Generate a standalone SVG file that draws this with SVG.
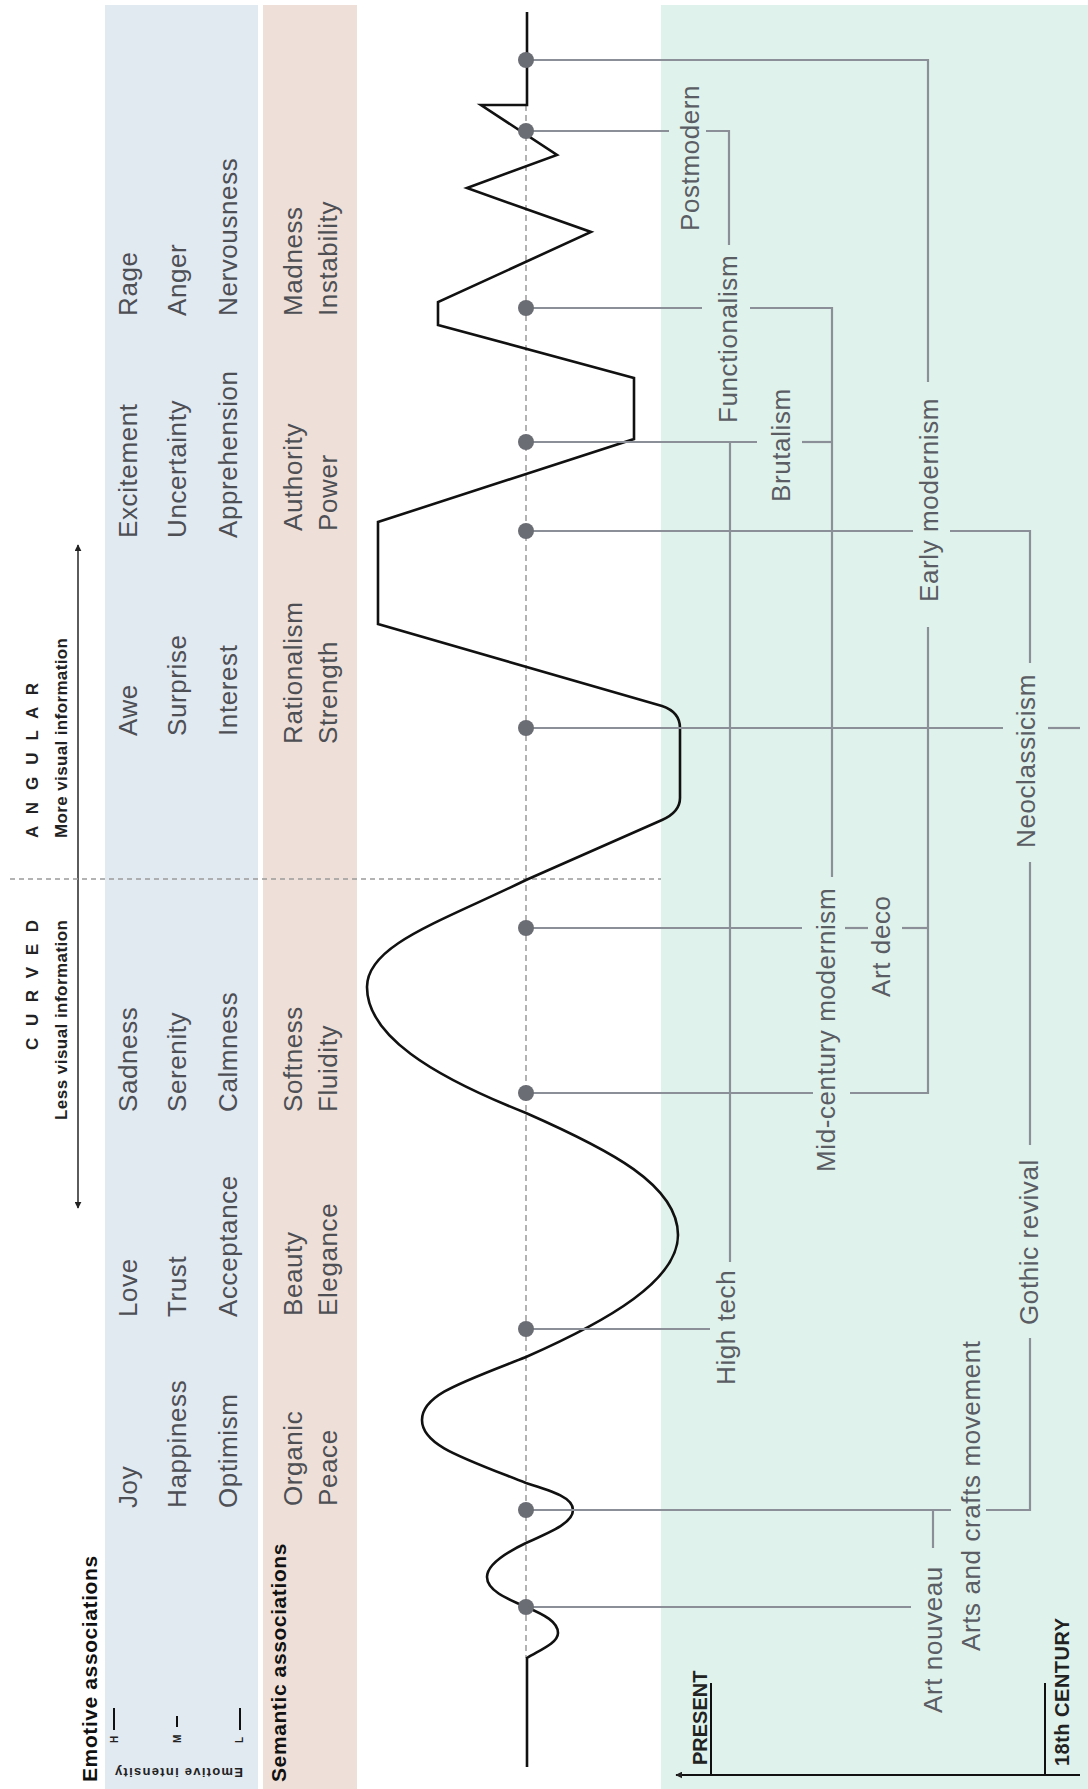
<svg xmlns="http://www.w3.org/2000/svg" width="1088" height="1789" viewBox="0 0 1088 1789">
<style>
.w{font-family:"Liberation Sans",Arial,sans-serif;font-size:26px;fill:#4d4f55;letter-spacing:0.6px}
.lab{font-family:"Liberation Sans",Arial,sans-serif;font-size:26px;fill:#5a5d63;letter-spacing:0.6px}
.ttl{font-family:"Liberation Sans",Arial,sans-serif;font-size:21px;font-weight:bold;fill:#111;letter-spacing:0.6px}
.sm{font-family:"Liberation Sans",Arial,sans-serif;font-weight:bold;fill:#222}
.nar{font-family:"Liberation Sans Narrow","Liberation Sans",Arial,sans-serif;font-weight:bold;fill:#222}
.con{fill:none;stroke:#8a8f98;stroke-width:2.2}
.dot{fill:#6b6d74}
.blk{fill:none;stroke:#111;stroke-width:2}
</style>
<defs>
<marker id="arr" viewBox="0 0 10 10" refX="9" refY="5" markerWidth="7" markerHeight="7" markerUnits="userSpaceOnUse" orient="auto-start-reverse">
<path d="M0,0 L10,5 L0,10 z" fill="#222"/>
</marker>
</defs>

<g id="bands">
<rect x="105" y="5" width="153" height="1784" fill="#e1e9f1"/>
<rect x="263" y="5" width="94" height="1784" fill="#eee0d8"/>
<rect x="661" y="5" width="427" height="1784" fill="#e0f2ec"/>
</g>

<g id="left-titles">
<text class="ttl" transform="translate(97,1782) rotate(-90)">Emotive associations</text>
<text class="ttl" transform="translate(286,1782) rotate(-90)">Semantic associations</text>
<text class="sm" font-size="13" textLength="128" transform="translate(243,1768) rotate(180)">Emotive intensity</text>
<text class="sm" font-size="10" transform="translate(118,1743) rotate(-90)">H</text>
<text class="sm" font-size="10" transform="translate(181,1743) rotate(-90)">M</text>
<text class="sm" font-size="10" transform="translate(243,1743) rotate(-90)">L</text>
<path class="blk" d="M114 1708 V1730 M177 1716 V1727 M240 1708 V1730"/>
</g>

<g id="axis-labels">
<text class="sm" font-size="17" textLength="130" text-anchor="end" transform="translate(38,920) rotate(-90)">C U R V E D</text>
<text class="nar" font-size="17" textLength="200" text-anchor="end" transform="translate(67,920) rotate(-90)">Less visual information</text>
<text class="sm" font-size="17" textLength="155" transform="translate(38,838) rotate(-90)">A N G U L A R</text>
<text class="nar" font-size="17" textLength="200" transform="translate(67,838) rotate(-90)">More visual information</text>
<path d="M78 545 V1208" stroke="#333" stroke-width="1.6" fill="none" marker-start="url(#arr)" marker-end="url(#arr)"/>
<path d="M10 879 H661" stroke="#9a9a9a" stroke-width="1.5" stroke-dasharray="5 4" fill="none"/>
</g>

<g id="emotive-words">
<text class="w" transform="translate(137,316) rotate(-90)">Rage</text>
<text class="w" transform="translate(186,316) rotate(-90)">Anger</text>
<text class="w" transform="translate(237,316) rotate(-90)">Nervousness</text>
<text class="w" transform="translate(137,538) rotate(-90)">Excitement</text>
<text class="w" transform="translate(186,538) rotate(-90)">Uncertainty</text>
<text class="w" transform="translate(237,538) rotate(-90)">Apprehension</text>
<text class="w" transform="translate(137,736) rotate(-90)">Awe</text>
<text class="w" transform="translate(186,736) rotate(-90)">Surprise</text>
<text class="w" transform="translate(237,736) rotate(-90)">Interest</text>
<text class="w" transform="translate(137,1112) rotate(-90)">Sadness</text>
<text class="w" transform="translate(186,1112) rotate(-90)">Serenity</text>
<text class="w" transform="translate(237,1112) rotate(-90)">Calmness</text>
<text class="w" transform="translate(137,1317) rotate(-90)">Love</text>
<text class="w" transform="translate(186,1317) rotate(-90)">Trust</text>
<text class="w" transform="translate(237,1317) rotate(-90)">Acceptance</text>
<text class="w" transform="translate(137,1508) rotate(-90)">Joy</text>
<text class="w" transform="translate(186,1508) rotate(-90)">Happiness</text>
<text class="w" transform="translate(237,1508) rotate(-90)">Optimism</text>
</g>

<g id="semantic-words">
<text class="w" transform="translate(302,316) rotate(-90)">Madness</text>
<text class="w" transform="translate(337,316) rotate(-90)">Instability</text>
<text class="w" transform="translate(302,531) rotate(-90)">Authority</text>
<text class="w" transform="translate(337,531) rotate(-90)">Power</text>
<text class="w" transform="translate(302,744) rotate(-90)">Rationalism</text>
<text class="w" transform="translate(337,744) rotate(-90)">Strength</text>
<text class="w" transform="translate(302,1112) rotate(-90)">Softness</text>
<text class="w" transform="translate(337,1112) rotate(-90)">Fluidity</text>
<text class="w" transform="translate(302,1316) rotate(-90)">Beauty</text>
<text class="w" transform="translate(337,1316) rotate(-90)">Elegance</text>
<text class="w" transform="translate(302,1506) rotate(-90)">Organic</text>
<text class="w" transform="translate(337,1506) rotate(-90)">Peace</text>
</g>

<g id="axis">
<path d="M526 105 V1658" stroke="#9a9a9a" stroke-width="1.5" stroke-dasharray="6 4" fill="none"/>
</g>

<g id="curve">
<path fill="none" stroke="#111" stroke-width="2.6" stroke-linejoin="miter" d="M527 12 L527 105 L481 105 L557 155 L467 188 L591 232 L438 302 L438 325 L634 378 L634 439 L378 522 L378 624 L662 706 Q680 712 680 728 L680 798 Q680 812 662 820 L526 880 C440 922 367 945 367 987 C367 1035 430 1075 526 1113 C610 1150 678 1185 678 1235 C678 1280 610 1320 526 1357 C460 1383 422 1395 422 1420 C422 1445 460 1457 526 1483 C555 1492 573 1498 573 1510 C573 1522 555 1530 526 1543 C505 1553 487 1565 487 1577 C487 1590 505 1598 526 1607 C545 1615 558 1622 558 1633 C558 1643 540 1650 527 1658 L527 1767"/>
</g>

<g id="connectors">
<path class="con" d="M526 60 H928 V382"/>
<path class="con" d="M928 627 V1093 H850"/>
<path class="con" d="M813 1093 H526"/>
<path class="con" d="M526 131 H669"/>
<path class="con" d="M706 131 H729 V245"/>
<path class="con" d="M526 308 H702"/>
<path class="con" d="M750 308 H832 V877"/>
<path class="con" d="M526 442 H757"/>
<path class="con" d="M802 442 H832"/>
<path class="con" d="M730 442 V1262"/>
<path class="con" d="M526 531 H913"/>
<path class="con" d="M950 531 H1030 V663"/>
<path class="con" d="M526 728 H1003"/>
<path class="con" d="M1048 728 H1080"/>
<path class="con" d="M1030 862 V1145"/>
<path class="con" d="M1030 1338 V1510 H986"/>
<path class="con" d="M951 1510 H526"/>
<path class="con" d="M933 1510 V1548"/>
<path class="con" d="M526 928 H802"/>
<path class="con" d="M845 928 H868"/>
<path class="con" d="M902 928 H928"/>
<path class="con" d="M526 1329 H710"/>
<path class="con" d="M526 1607 H911"/>
</g>

<g id="dots">
<circle class="dot" cx="526" cy="60" r="8"/>
<circle class="dot" cx="526" cy="131" r="8"/>
<circle class="dot" cx="526" cy="308" r="8"/>
<circle class="dot" cx="526" cy="442" r="8"/>
<circle class="dot" cx="526" cy="531" r="8"/>
<circle class="dot" cx="526" cy="728" r="8"/>
<circle class="dot" cx="526" cy="928" r="8"/>
<circle class="dot" cx="526" cy="1093" r="8"/>
<circle class="dot" cx="526" cy="1329" r="8"/>
<circle class="dot" cx="526" cy="1510" r="8"/>
<circle class="dot" cx="526" cy="1607" r="8"/>
</g>

<g id="node-postmodern"><text class="lab" transform="translate(699,231) rotate(-90)">Postmodern</text></g>
<g id="node-functionalism"><text class="lab" transform="translate(737,423) rotate(-90)">Functionalism</text></g>
<g id="node-brutalism"><text class="lab" transform="translate(790,502) rotate(-90)">Brutalism</text></g>
<g id="node-early-modernism"><text class="lab" transform="translate(938,602) rotate(-90)">Early modernism</text></g>
<g id="node-neoclassicism"><text class="lab" transform="translate(1035,848) rotate(-90)">Neoclassicism</text></g>
<g id="node-mid-century"><text class="lab" transform="translate(835,1172) rotate(-90)">Mid-century modernism</text></g>
<g id="node-art-deco"><text class="lab" transform="translate(890,997) rotate(-90)">Art deco</text></g>
<g id="node-high-tech"><text class="lab" transform="translate(735,1385) rotate(-90)">High tech</text></g>
<g id="node-gothic-revival"><text class="lab" transform="translate(1038,1325) rotate(-90)">Gothic revival</text></g>
<g id="node-arts-crafts"><text class="lab" transform="translate(980,1651) rotate(-90)">Arts and crafts movement</text></g>
<g id="node-art-nouveau"><text class="lab" transform="translate(942,1713) rotate(-90)">Art nouveau</text></g>

<g id="timeline">
<path d="M1080 1775 H676" stroke="#111" stroke-width="1.8" fill="none" marker-end="url(#arr)"/>
<path class="blk" stroke-width="1.6" d="M711 1683 V1775 M1045 1683 V1775"/>
<text class="sm" font-size="20" fill="#111" transform="translate(707,1765) rotate(-90)">PRESENT</text>
<text class="sm" font-size="20" fill="#111" textLength="148" transform="translate(1069,1766) rotate(-90)">18th CENTURY</text>
</g>
</svg>
